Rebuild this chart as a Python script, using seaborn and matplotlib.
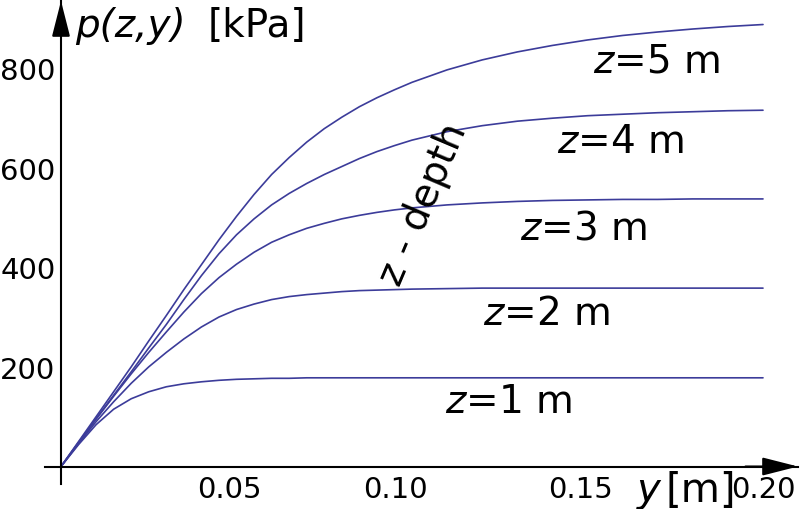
import numpy as np
import pandas as pd
import matplotlib
matplotlib.use('Agg')
import matplotlib.pyplot as plt
from matplotlib.transforms import ScaledTranslation
import seaborn as sns

# values
y_m = [0, 0.005, 0.01, 0.015, 0.02, 0.025, 0.03, 0.035, 0.04, 0.045, 0.05, 0.055, 0.06,
       0.065, 0.07, 0.075, 0.08, 0.085, 0.09, 0.095, 0.10,
       0.11, 0.12, 0.13, 0.14, 0.15, 0.16, 0.17, 0.18, 0.19, 0.20]

p_z1 = [0, 44, 84, 115, 136, 150, 160, 166, 170, 173, 175, 176, 177,
        177, 178, 178, 178, 178, 178, 178, 178,
        178, 178, 178, 178, 178, 178, 178, 178, 178, 178]
p_z2 = [0, 46, 90, 130, 167, 200, 229, 256, 280, 300, 315, 326, 335,
        341, 345, 348, 351, 353, 354, 355, 356,
        357, 358, 358, 358, 358, 358, 358, 358, 358, 358]
p_z3 = [0, 48, 95, 141, 186, 229, 270, 310, 347, 379, 406, 430, 450,
        465, 478, 488, 497, 504, 510, 515, 519,
        525, 529, 532, 534, 535, 536, 536, 537, 537, 537]
p_z4 = [0, 48, 96, 143, 190, 238, 285, 335, 383, 427, 465, 497, 525,
        548, 568, 586, 602, 618, 632, 644, 655,
        672, 684, 693, 699, 704, 707, 710, 712, 714, 715]
p_z5 = [0, 50, 100, 150, 200, 252, 303, 355, 405, 455, 502, 546, 586,
        620, 651, 678, 701, 722, 740, 756, 771,
        796, 816, 832, 845, 856, 865, 872, 878, 883, 887]

depths = ['1', '2', '3', '4', '5']
x_ticks = [0.05, 0.10, 0.15, 0.20]
x_tick_labels = ['0.05', '0.10', '0.15', '0.20']
y_ticks = [200, 400, 600, 800]

df = pd.DataFrame({
    'y': y_m * 5,
    'p': p_z1 + p_z2 + p_z3 + p_z4 + p_z5,
    'z': np.repeat(depths, len(y_m)),
})

sns.set_style('white')
plt.rcParams['font.family'] = ['DejaVu Sans']
plt.rcParams['mathtext.fontset'] = 'dejavusans'
plt.rcParams['text.color'] = 'black'
plt.rcParams['xtick.color'] = 'black'
plt.rcParams['ytick.color'] = 'black'

line_color = '#3c3c9a'

fig = plt.figure(figsize=(8, 5.1), dpi=100)
ax = fig.add_axes([45 / 800, 1 - 485 / 510, 753 / 800, 483 / 510])

sns.lineplot(data=df, x='y', y='p', hue='z', palette=[line_color] * 5,
             legend=False, errorbar=None, linewidth=1.2, ax=ax)

ax.set_xlim(-0.00456, 0.20997)
ax.set_ylim(-35.1, 934.2)

# mathematica style axes through the origin
for side in ['top', 'right']:
    ax.spines[side].set_visible(False)
for side in ['left', 'bottom']:
    ax.spines[side].set_position(('data', 0))
    ax.spines[side].set_linewidth(1.5)
    ax.spines[side].set_color('black')

ax.set_xticks(x_ticks)
ax.set_xticklabels(x_tick_labels)
ax.set_xticks([t / 100 for t in range(1, 20) if t % 5 != 0], minor=True)
ax.set_yticks(y_ticks)
ax.set_yticks([t for t in range(50, 900, 50) if t % 200 != 0], minor=True)
ax.tick_params(which='major', direction='in', length=6.5, width=1.2, labelsize=21,
               color='black', labelcolor='black')
ax.tick_params(which='minor', direction='in', length=3.6, width=1.0, color='black')
ax.tick_params(axis='x', pad=6)
ax.tick_params(axis='y', pad=4)
ax.set_xlabel('')
ax.set_ylabel('')
ax.grid(False)

# the x labels sit a bit left of their ticks in the original
for lab, dx in zip(ax.get_xticklabels(), [-7, -17, -7, 0]):
    lab.set_transform(lab.get_transform() + ScaledTranslation(dx / 100, 0, fig.dpi_scale_trans))

# arrow heads
arrow_style = dict(arrowstyle='-|>,head_length=1.1,head_width=0.28', color='black',
                   lw=1.5, mutation_scale=20, shrinkA=0, shrinkB=0)
ax.annotate('', xy=(0.20997, 0), xytext=(0.195, 0), arrowprops=arrow_style, annotation_clip=False)
ax.annotate('', xy=(0, 934.2), xytext=(0, 880), arrowprops=arrow_style, annotation_clip=False)

# axis titles
ax.text(0.004, 864, 'p(z,y)', style='italic', fontsize=28, va='baseline', ha='left')
ax.text(0.0419, 864, '[kPa]', fontsize=28, va='baseline', ha='left')
ax.text(0.1641, -68.6, 'y', style='italic', fontsize=29, va='baseline', ha='left')
ax.text(0.1721, -68.6, '[m]', fontsize=29, va='baseline', ha='left')

# curve labels
label_x = [0.1094, 0.1202, 0.1308, 0.1413, 0.1516]
label_p = [109, 285, 456.6, 631, 792]
for d, lx, lp in zip(depths, label_x, label_p):
    ax.text(lx, lp, r'$z$=' + d + ' m', fontsize=28, va='baseline', ha='left')

ax.text(0.1031, 527, 'z - depth', rotation=67, fontsize=28, ha='center', va='center',
        rotation_mode='anchor')

fig.savefig('out.png', dpi=100)
